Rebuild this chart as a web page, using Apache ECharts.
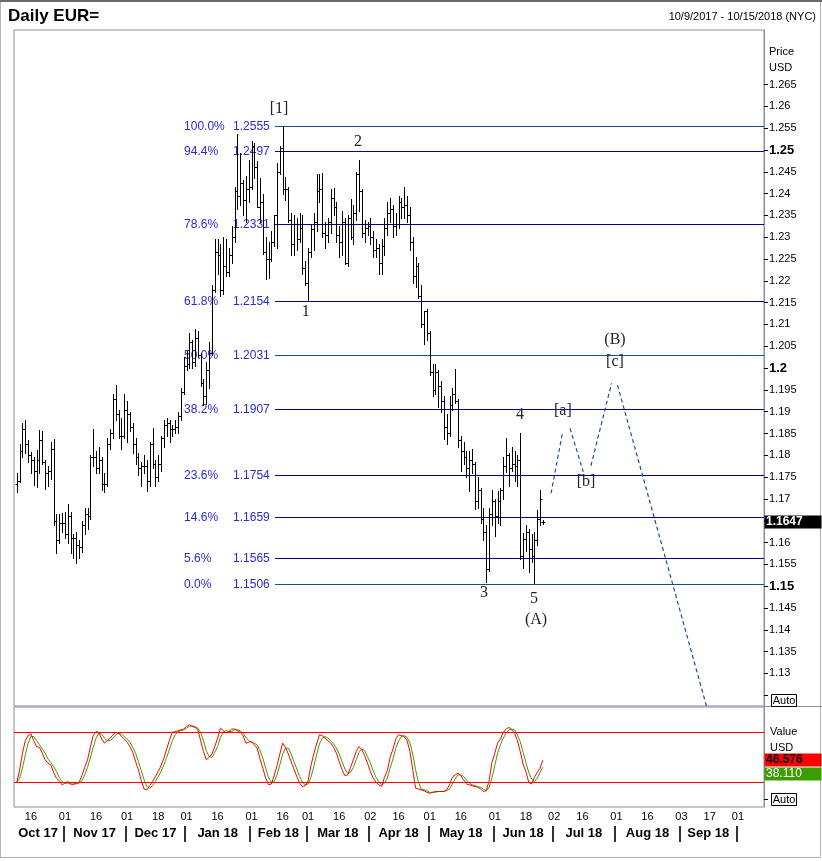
<!DOCTYPE html>
<html><head><meta charset="utf-8">
<script src="https://cdn.jsdelivr.net/npm/echarts@6/dist/echarts.min.js"></script>
<style>html,body{margin:0;padding:0;background:#fff}#c{width:822px;height:861px}</style>
</head><body><div id="c"></div>
<script>
// ---------- DATA ----------
// trading-day index 0 = Mon 9 Oct 2017 (weekdays only)
const ohlc = [ // [open, high, low, close]
[1.1735,1.1760,1.1715,1.1740],[1.1740,1.1826,1.1738,1.1810],[1.1810,1.1875,1.1795,1.1860],[1.1860,1.1880,1.1805,1.1825],[1.1825,1.1835,1.1785,1.1800],
[1.1800,1.1808,1.1760,1.1790],[1.1790,1.1795,1.1732,1.1765],[1.1765,1.1813,1.1728,1.1790],[1.1790,1.1858,1.1759,1.1835],[1.1835,1.1855,1.1780,1.1785],
[1.1785,1.1790,1.1722,1.1760],[1.1760,1.1775,1.1730,1.1765],[1.1765,1.1830,1.1745,1.1815],[1.1815,1.1838,1.1640,1.1650],[1.1650,1.1665,1.1575,1.1605],
[1.1605,1.1665,1.1600,1.1645],[1.1645,1.1668,1.1625,1.1645],[1.1645,1.1670,1.1610,1.1620],[1.1620,1.1688,1.1600,1.1660],[1.1660,1.1670,1.1575,1.1610],
[1.1610,1.1620,1.1565,1.1610],[1.1610,1.1625,1.1554,1.1595],[1.1595,1.1605,1.1565,1.1590],[1.1590,1.1650,1.1578,1.1640],[1.1640,1.1680,1.1620,1.1665],
[1.1665,1.1680,1.1630,1.1660],[1.1660,1.1800,1.1655,1.1795],[1.1795,1.1861,1.1775,1.1795],[1.1795,1.1810,1.1760,1.1770],[1.1770,1.1820,1.1760,1.1790],
[1.1790,1.1795,1.1720,1.1735],[1.1735,1.1760,1.1715,1.1735],[1.1735,1.1840,1.1730,1.1825],[1.1825,1.1860,1.1815,1.1850],[1.1850,1.1940,1.1840,1.1930],
[1.1930,1.1961,1.1880,1.1895],[1.1895,1.1905,1.1840,1.1845],[1.1845,1.1885,1.1815,1.1845],[1.1845,1.1940,1.1840,1.1905],[1.1905,1.1925,1.1830,1.1895],
[1.1895,1.1900,1.1855,1.1865],[1.1865,1.1875,1.1805,1.1825],[1.1825,1.1840,1.1780,1.1795],[1.1795,1.1805,1.1755,1.1770],[1.1770,1.1785,1.1730,1.1775],
[1.1775,1.1800,1.1760,1.1775],[1.1775,1.1790,1.1718,1.1740],[1.1740,1.1830,1.1730,1.1825],[1.1825,1.1863,1.1770,1.1780],[1.1780,1.1790,1.1730,1.1750],
[1.1750,1.1800,1.1740,1.1780],[1.1780,1.1845,1.1765,1.1840],[1.1840,1.1880,1.1820,1.1870],[1.1870,1.1885,1.1845,1.1875],[1.1875,1.1880,1.1830,1.1860],
[1.1860,1.1870,1.1845,1.1860],[1.1860,1.1880,1.1850,1.1865],[1.1865,1.1900,1.1850,1.1890],[1.1890,1.1955,1.1880,1.1945],[1.1945,1.2025,1.1940,1.2005],
[1.2005,1.2040,1.1995,1.2010],[1.2010,1.2081,1.2000,1.2060],[1.2060,1.2065,1.2000,1.2015],[1.2015,1.2089,1.2005,1.2068],[1.2068,1.2085,1.2025,1.2030],
[1.2030,1.2035,1.1960,1.1965],[1.1965,1.1975,1.1916,1.1935],[1.1935,1.2015,1.1918,1.1995],[1.1995,1.2060,1.1955,1.2035],[1.2035,1.2190,1.2030,1.2180],
[1.2180,1.2296,1.2175,1.2265],[1.2265,1.2295,1.2215,1.2260],[1.2260,1.2285,1.2165,1.2180],[1.2180,1.2300,1.2170,1.2235],[1.2235,1.2295,1.2210,1.2220],
[1.2220,1.2275,1.2210,1.2260],[1.2260,1.2325,1.2240,1.2300],[1.2300,1.2415,1.2290,1.2405],[1.2405,1.2537,1.2365,1.2395],[1.2395,1.2493,1.2375,1.2425],
[1.2425,1.2432,1.2350,1.2385],[1.2385,1.2440,1.2335,1.2410],[1.2410,1.2478,1.2380,1.2415],[1.2415,1.2520,1.2410,1.2510],[1.2510,1.2515,1.2435,1.2460],
[1.2460,1.2475,1.2370,1.2370],[1.2370,1.2435,1.2335,1.2380],[1.2380,1.2400,1.2262,1.2265],[1.2265,1.2300,1.2205,1.2250],[1.2250,1.2290,1.2206,1.2250],
[1.2250,1.2315,1.2245,1.2290],[1.2290,1.2350,1.2280,1.2350],[1.2350,1.2470,1.2275,1.2450],[1.2450,1.2510,1.2445,1.2505],[1.2505,1.2555,1.2400,1.2410],
[1.2410,1.2438,1.2385,1.2410],[1.2410,1.2415,1.2335,1.2340],[1.2340,1.2355,1.2260,1.2285],[1.2285,1.2350,1.2260,1.2330],[1.2330,1.2345,1.2270,1.2295],
[1.2295,1.2355,1.2290,1.2320],[1.2320,1.2350,1.2215,1.2230],[1.2230,1.2245,1.2190,1.2195],[1.2195,1.2275,1.2154,1.2265],[1.2265,1.2330,1.2255,1.2318],
[1.2318,1.2355,1.2270,1.2335],[1.2335,1.2445,1.2315,1.2405],[1.2405,1.2446,1.2380,1.2410],[1.2410,1.2447,1.2300,1.2310],[1.2310,1.2335,1.2275,1.2305],
[1.2305,1.2345,1.2290,1.2335],[1.2335,1.2410,1.2310,1.2390],[1.2390,1.2413,1.2350,1.2370],[1.2370,1.2380,1.2290,1.2305],[1.2305,1.2325,1.2255,1.2290],
[1.2290,1.2360,1.2260,1.2335],[1.2335,1.2345,1.2239,1.2240],[1.2240,1.2350,1.2235,1.2345],[1.2345,1.2388,1.2295,1.2300],[1.2300,1.2375,1.2285,1.2355],
[1.2355,1.2450,1.2340,1.2445],[1.2445,1.2476,1.2360,1.2405],[1.2405,1.2410,1.2300,1.2310],[1.2310,1.2340,1.2290,1.2320],[1.2320,1.2335,1.2305,1.2325],
[1.2325,1.2345,1.2285,1.2300],[1.2300,1.2315,1.2255,1.2270],[1.2270,1.2295,1.2255,1.2275],[1.2275,1.2285,1.2215,1.2240],[1.2240,1.2295,1.2215,1.2280],
[1.2280,1.2345,1.2260,1.2320],[1.2320,1.2380,1.2305,1.2355],[1.2355,1.2390,1.2335,1.2365],[1.2365,1.2375,1.2300,1.2325],[1.2325,1.2355,1.2305,1.2330],
[1.2330,1.2395,1.2320,1.2380],[1.2380,1.2390,1.2345,1.2370],[1.2370,1.2415,1.2345,1.2375],[1.2375,1.2395,1.2335,1.2350],[1.2350,1.2370,1.2270,1.2290],
[1.2290,1.2300,1.2195,1.2210],[1.2210,1.2255,1.2185,1.2235],[1.2235,1.2240,1.2160,1.2165],[1.2165,1.2190,1.2095,1.2100],[1.2100,1.2130,1.2055,1.2130],
[1.2130,1.2135,1.2065,1.2080],[1.2080,1.2085,1.1985,1.1990],[1.1990,1.2010,1.1935,1.1950],[1.1950,1.2010,1.1940,1.1990],[1.1990,1.1995,1.1910,1.1960],
[1.1960,1.1970,1.1900,1.1925],[1.1925,1.1935,1.1838,1.1865],[1.1865,1.1895,1.1825,1.1850],[1.1850,1.1935,1.1845,1.1915],[1.1915,1.1955,1.1905,1.1940],
[1.1940,1.1997,1.1920,1.1925],[1.1925,1.1930,1.1820,1.1835],[1.1835,1.1845,1.1763,1.1810],[1.1810,1.1830,1.1780,1.1795],[1.1795,1.1810,1.1750,1.1770],
[1.1770,1.1810,1.1717,1.1790],[1.1790,1.1815,1.1760,1.1780],[1.1780,1.1785,1.1676,1.1695],[1.1695,1.1750,1.1680,1.1720],[1.1720,1.1725,1.1645,1.1655],
[1.1655,1.1680,1.1605,1.1625],[1.1625,1.1640,1.1510,1.1540],[1.1540,1.1680,1.1535,1.1665],[1.1665,1.1720,1.1640,1.1695],[1.1695,1.1700,1.1615,1.1660],
[1.1660,1.1717,1.1645,1.1695],[1.1695,1.1725,1.1640,1.1720],[1.1720,1.1797,1.1700,1.1775],[1.1775,1.1840,1.1762,1.1800],[1.1800,1.1805,1.1730,1.1770],
[1.1770,1.1820,1.1765,1.1780],[1.1780,1.1810,1.1740,1.1775],[1.1775,1.1800,1.1730,1.1790],[1.1790,1.1852,1.1562,1.1569],[1.1569,1.1622,1.1542,1.1608],
[1.1608,1.1640,1.1580,1.1625],[1.1625,1.1630,1.1532,1.1585],[1.1585,1.1620,1.1555,1.1570],[1.1570,1.1625,1.1508,1.1605],[1.1605,1.1675,1.1595,1.1655],
[1.1655,1.1720,1.1640,1.1700],[1.1647,1.1651,1.1643,1.1647]
];
const stochK = [20,35,55,70,76,78,70,63,62,55, 47,43,41,32,25,22,17,19,21,18, 17,19,20,28,38,47,62,76,81,80, 72,67,70,73,77,80,79,75,72,68, 63,56,45,35,22,12,11,16,21,27, 33,40,49,60,71,80,81,82,83,84, 87,89,87,86,83,70,57,47,50,54, 63,73,85,82,79,81,84,84,82,80, 76,67,68,69,65,61,48,37,25,17, 18,28,40,54,67,62,54,45,36,27, 19,15,16,22,40,54,66,77,76,73, 70,67,62,55,45,35,28,29,38,47, 57,63,59,52,43,33,25,20,17,15, 26,34,50,60,72,77,76,75,70,57, 35,13,12,11,10,8,7,8,9,9, 9,9,11,17,26,29,31,28,23,18, 17,16,15,14,12,9,10,22,44,55, 67,72,80,84,86,83,79,70,57,42, 33,20,18,26,32,37,46.576];
const stochD = [20,25,37,53,67,75,75,70,65,60, 55,48,44,39,33,26,21,19,19,19, 19,18,19,22,29,38,49,62,73,79, 78,73,70,70,73,77,79,78,75,72, 68,62,55,45,34,23,15,13,16,21, 27,33,41,50,60,70,77,81,82,83, 85,87,88,87,85,80,70,58,51,50, 56,63,74,80,82,81,81,83,83,82, 79,74,70,68,67,65,58,49,37,26, 20,21,29,41,54,61,61,54,45,36, 27,20,17,18,26,39,53,66,73,75, 73,70,66,61,54,45,36,31,32,38, 47,56,60,58,51,43,34,26,21,17, 19,25,37,48,61,70,75,76,74,67, 54,35,20,12,11,10,8,8,8,9, 9,9,10,12,18,24,29,29,27,23, 19,17,16,15,14,12,10,14,25,40, 55,65,73,79,83,84,83,77,69,56, 44,32,24,21,25,32,38.11];
const stochBands = [20, 80];
const fibPct = ['100.0%','94.4%','78.6%','61.8%','50.0%','38.2%','23.6%','14.6%','5.6%','0.0%'];
const fibVal = [1.2555,1.2497,1.2331,1.2154,1.2031,1.1907,1.1754,1.1659,1.1565,1.1506];
const fibStartIdx = 91.3;
const waveText  = ['[1]','2','1','3','4','5','(A)','(B)','[a]','[b]','[c]'];
const waveIdx   = [92.7,120.6,102.2,165.2,177.9,182.9,183.6,211.5,193.1,201.3,211.5];
const wavePrice = [1.2594,1.2518,1.2129,1.1484,1.1892,1.1471,1.1422,1.2064,1.1902,1.1739,1.2014];
const forecastSegs = [
  [[188.9,1.1713],[192.9,1.1850]],
  [[195.6,1.1862],[200.3,1.1762]],
  [[203.0,1.1776],[210.3,1.1965]],
  [[212.4,1.1961],[243.9,1.1224]]
];
const priceTicks = [1.125,1.13,1.135,1.14,1.145,1.15,1.155,1.16,1.165,1.17,1.175,1.18,1.185,1.19,1.195,1.2,1.205,1.21,1.215,1.22,1.225,1.23,1.235,1.24,1.245,1.25,1.255,1.26,1.265];
const priceLabels = [1.13,1.135,1.14,1.145,1.15,1.155,1.16,1.165,1.17,1.175,1.18,1.185,1.19,1.195,1.2,1.205,1.21,1.215,1.22,1.225,1.23,1.235,1.24,1.245,1.25,1.255,1.26,1.265];
const boldPrices = [1.15,1.2,1.25];
const dayTickIdx  = [5,17,28,39,50,60,71,83,94,103,114,125,135,146,157,169,180,190,200,212,223,235,245,255];
const dayTickText = ['16','01','16','01','18','01','16','01','16','01','16','02','16','01','16','01','18','02','16','01','16','03','17','01'];
const monthMidIdx = [7.5,27.5,49,71,92.5,113.5,135,157,179,200.5,223,244.5];
const monthText = ['Oct 17','Nov 17','Dec 17','Jan 18','Feb 18','Mar 18','Apr 18','May 18','Jun 18','Jul 18','Aug 18','Sep 18'];
const monthSepIdx = [16.5,38.5,59.5,82.5,102.5,124.5,145.5,168.5,189.5,211.5,234.5,254.5];
const lastPrice = 1.1647, lastK = 46.576, lastD = 38.110;

// ---------- STYLE ----------
const FONT = '"Liberation Sans", Arial, sans-serif';
const frameColor = '#8c8ca4';
const fibColors = ['#1b4d86','#00008a','#00008a','#00008a','#1b4d86','#00008a','#00008a','#00008a','#00008a','#1b4d86'];
const X_MIN = -1.0, X_MAX = 264.2;

const chart = echarts.init(document.getElementById('c'), null, {renderer:'canvas'});

function fmtPrice(v){ return String(+v.toFixed(3)); }
function fmtFib(v){ return v.toFixed(4); }

const barData = ohlc.map((d,i)=>[i,d[0],d[1],d[2],d[3]]);

const option = {
  animation:false,
  textStyle:{fontFamily:FONT},
  grid:[
    {left:14,right:58,top:30,height:676,show:true,borderColor:frameColor,borderWidth:1,outerBoundsMode:'none',containLabel:false},
    {left:14,right:58,top:707,height:100,show:true,borderColor:frameColor,borderWidth:1,outerBoundsMode:'none',containLabel:false}
  ],
  xAxis:[
    {type:'value',gridIndex:0,min:X_MIN,max:X_MAX,show:false,axisLine:{onZero:false}},
    {type:'value',gridIndex:1,min:X_MIN,max:X_MAX,position:'bottom',
      axisLine:{show:false,onZero:false},splitLine:{show:false},axisTick:{show:false},
      axisLabel:{customValues:dayTickIdx,margin:4,fontSize:11,color:'#000',fontFamily:FONT,
        formatter:v=>{const k=dayTickIdx.indexOf(Math.round(v));return k>=0?dayTickText[k]:'';}}},
    {type:'value',gridIndex:1,min:X_MIN,max:X_MAX,position:'bottom',offset:19,
      axisLine:{show:false,onZero:false},splitLine:{show:false},
      axisTick:{show:true,customValues:monthSepIdx,length:16,lineStyle:{color:'#000',width:1.6}},
      axisLabel:{customValues:monthMidIdx,margin:1,fontSize:13,fontWeight:'bold',color:'#000',fontFamily:FONT,
        formatter:v=>{let k=-1;monthMidIdx.forEach((m,i)=>{if(Math.abs(m-v)<0.01)k=i;});return k>=0?monthText[k]:'';}}}
  ],
  yAxis:[
    {type:'value',gridIndex:0,position:'right',min:1.12252,max:1.27751,
      axisLine:{show:true,onZero:false,lineStyle:{color:frameColor}},splitLine:{show:false},
      axisTick:{show:true,customValues:priceTicks,length:4,lineStyle:{color:'#000'}},
      axisLabel:{customValues:priceLabels,margin:5,fontSize:11,color:'#000',fontFamily:FONT,
        formatter:v=>{const s=fmtPrice(v);return boldPrices.some(b=>Math.abs(b-v)<1e-6)?'{b|'+s+'}':s;},
        rich:{b:{fontSize:13,fontWeight:'bold',color:'#000',fontFamily:FONT}}}},
    {type:'value',gridIndex:1,position:'right',min:-9.6,max:110.4,
      axisLine:{show:true,onZero:false,lineStyle:{color:frameColor}},splitLine:{show:false},
      axisTick:{show:true,customValues:[0],length:4,lineStyle:{color:'#000'}},
      axisLabel:{show:false}}
  ],
  series:[
    { // Fibonacci levels
      type:'custom',xAxisIndex:0,yAxisIndex:0,silent:true,z:2,
      data:fibVal.map((v,i)=>[fibStartIdx,v,i]),
      renderItem:(params,api)=>{
        const i=api.value(2);
        const p=api.coord([api.value(0),api.value(1)]);
        const right=params.coordSys.x+params.coordSys.width;
        const y=Math.round(p[1])+0.5;
        return {type:'group',children:[
          {type:'line',shape:{x1:p[0],y1:y,x2:right,y2:y},style:{stroke:fibColors[i],lineWidth:1}},
          {type:'text',x:p[0]-91,y:y,style:{text:fibPct[i],fill:'#2a2ad0',font:'12px '+FONT,verticalAlign:'middle',align:'left'}},
          {type:'text',x:p[0]-42,y:y,style:{text:fmtFib(fibVal[i]),fill:'#2a2ad0',font:'12px '+FONT,verticalAlign:'middle',align:'left'}}
        ]};
      }
    },
    { // OHLC bars
      type:'custom',xAxisIndex:0,yAxisIndex:0,silent:true,z:3,
      encode:{x:0,y:[1,2,3,4]},
      data:barData,
      renderItem:(params,api)=>{
        const i=api.value(0);
        const o=api.coord([i,api.value(1)]),h=api.coord([i,api.value(2)]),l=api.coord([i,api.value(3)]),c=api.coord([i,api.value(4)]);
        const x=Math.round(h[0])+0.5;
        const st={stroke:'#000',lineWidth:1};
        const yo=Math.round(o[1])+0.5, yc=Math.round(c[1])+0.5;
        return {type:'group',children:[
          {type:'line',shape:{x1:x,y1:Math.round(h[1]),x2:x,y2:Math.round(l[1])+1},style:st},
          {type:'line',shape:{x1:x-2,y1:yo,x2:x,y2:yo},style:st},
          {type:'line',shape:{x1:x,y1:yc,x2:x+2,y2:yc},style:st}
        ]};
      }
    },
    { // wave labels
      type:'custom',xAxisIndex:0,yAxisIndex:0,silent:true,z:4,
      data:waveText.map((t,i)=>[waveIdx[i],wavePrice[i],i]),
      renderItem:(params,api)=>{
        const p=api.coord([api.value(0),api.value(1)]);
        return {type:'text',x:p[0],y:p[1],style:{text:waveText[api.value(2)],fill:'#222',font:'16px "Liberation Serif", "DejaVu Serif", serif',align:'center',verticalAlign:'middle'}};
      }
    },
    ...forecastSegs.map(seg=>({
      type:'line',xAxisIndex:0,yAxisIndex:0,silent:true,z:4,symbol:'none',
      data:seg,lineStyle:{color:'#1e4f94',width:1.2,type:[4,3]}
    })),
    { // %D green
      type:'line',xAxisIndex:1,yAxisIndex:1,silent:true,symbol:'none',z:3,
      data:stochD.map((v,i)=>[i,v]),lineStyle:{color:'#3a9e00',width:1},
      markLine:{silent:true,symbol:'none',label:{show:false},
        lineStyle:{color:'#ff0000',width:1,type:'solid'},
        data:stochBands.map(b=>({yAxis:b}))}
    },
    { // %K red
      type:'line',xAxisIndex:1,yAxisIndex:1,silent:true,symbol:'none',z:4,
      data:stochK.map((v,i)=>[i,v]),lineStyle:{color:'#ff0000',width:1}
    }
  ]
};

chart.setOption(option);

// annotation boxes placed through the axis scales
const yLast = chart.convertToPixel({yAxisIndex:0}, lastPrice);
const yK = chart.convertToPixel({yAxisIndex:1}, lastK);
const yAuto1 = chart.convertToPixel({yAxisIndex:0}, 1.125);
const yAuto2 = chart.convertToPixel({yAxisIndex:1}, 0);

function box(x,y,w,h,fill,stroke){return {type:'rect',shape:{x:x,y:y,width:w,height:h},style:{fill:fill,stroke:stroke||null,lineWidth:1},silent:true,z:10};}
function txt(x,y,t,opt){return {type:'text',x:x,y:y,silent:true,z:11,style:Object.assign({text:t,fill:'#000',font:'11px '+FONT,verticalAlign:'middle',align:'left'},opt||{})};}

const graphics = [
  {type:'rect',shape:{x:0.5,y:0.5,width:820,height:857},style:{fill:null,stroke:'#b0b0b0',lineWidth:1},silent:true,z:1},
  {type:'line',shape:{x1:0,y1:1,x2:822,y2:1},style:{stroke:'#6a6a6a',lineWidth:2},silent:true,z:1},
  {type:'line',shape:{x1:764,y1:706.5,x2:822,y2:706.5},style:{stroke:frameColor,lineWidth:1},silent:true,z:1},
  txt(8,16,'Daily EUR=',{font:'bold 17px '+FONT}),
  txt(816,17,'10/9/2017 - 10/15/2018 (NYC)',{align:'right',font:'11px '+FONT}),
  txt(769,52,'Price'),
  txt(769,68,'USD'),
  txt(770,732,'Value'),
  txt(770,748,'USD'),
  box(764.5,Math.round(yLast)-6.5,57,13,'#000'),
  txt(766,Math.round(yLast),lastPrice.toFixed(4),{fill:'#fff',font:'bold 12px '+FONT}),
  box(764.5,Math.round(yK)-6.5,57,13,'#ff0000'),
  txt(766,Math.round(yK),lastK.toFixed(3),{fill:'#000',font:'bold 12px '+FONT}),
  box(764.5,Math.round(yK)+7.5,57,13,'#3a9e00'),
  txt(766,Math.round(yK)+14,lastD.toFixed(3),{fill:'#fff',font:'12px '+FONT}),
  box(771.5,Math.round(yAuto1)-0.5,25,12,'#fff','#000'),
  txt(784,Math.round(yAuto1)+5.5,'Auto',{align:'center'}),
  box(771.5,Math.round(yAuto2)-5.5,25,12,'#fff','#000'),
  txt(784,Math.round(yAuto2)+0.5,'Auto',{align:'center'})
];
chart.setOption({graphic:graphics});
</script></body></html>
